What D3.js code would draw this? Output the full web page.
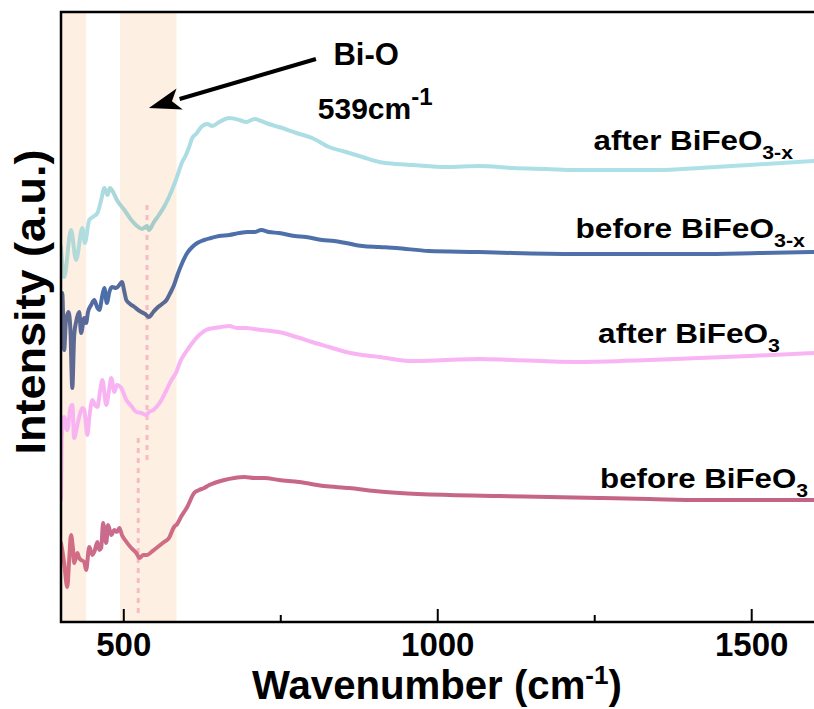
<!DOCTYPE html>
<html lang="en">
<head>
<meta charset="utf-8">
<title>Raman spectra BiFeO3</title>
<style type="text/css">
	body { margin: 0; background: white; }
	svg { display: block; font-family: "Liberation Sans", Arial, Helvetica, sans-serif; font-weight: bold; }
	.axis-line { stroke: black; stroke-width: 2.5; fill: none; }
	.tick-mark { stroke: black; stroke-width: 2; }
	.tick-label { font-size: 33px; text-anchor: middle; }
	.spectrum { fill: none; stroke-width: 4; stroke-linejoin: round; stroke-linecap: round; }
</style>
</head>
<body>
<script src="https://cdnjs.cloudflare.com/ajax/libs/d3/7.8.5/d3.min.js"></script>
<script type="text/javascript">

// ---- data (wavenumber in cm-1, intensity in a.u. with offsets) ----
var afterXWave = [400,405,416,424,434,438,445,453,458,464,469,474,478,481,489,501,512,521,529,537,540,548,556,564,572,583,593,599,604,609,615,625,633,641,652,668,684,695,708,719,731,747,775,800,827,854,880,907,934,959,1013,1066,1119,1173,1220,1289,1353,1416,1496,1598];
var afterXInt  = [375,345,392,362,394,379,402,406,409,422,434,427,434,432,422,412,402,396,393,396,392,400,407,415,425,442,460,467,475,484,488,496,498,496,500,504,502,500,503,501,498,495,489,484,475,470,465,460,458,457,455,456,454,453,452,452,452,454,457,461];

var beforeXWave = [400,402,405,408,412,415,418,421,424,429,432,437,440,443,448,453,458,461,466,469,473,477,481,488,494,497,501,504,510,517,523,528,534,540,547,553,561,568,574,580,586,593,601,609,617,628,639,652,668,684,697,708,719,731,747,772,790,816,835,854,880,907,934,986,1066,1119,1220,1321,1416,1512,1598];
var beforeXInt  = [322,329,272,302,310,292,234,287,300,310,289,304,299,310,317,322,314,312,327,334,319,330,335,334,338,340,330,322,318,315,312,310,308,305,310,314,318,322,329,337,348,359,369,375,379,382,384,386,387,389,390,390,392,390,389,386,385,382,381,379,376,375,374,371,370,369,368,368,368,369,370];

var afterWave = [400,401,403,405,410,415,418,421,426,429,434,437,442,445,450,454,458,462,466,472,477,480,485,489,496,504,512,520,528,536,540,547,552,560,568,576,583,591,599,609,620,631,644,655,668,680,695,708,720,734,747,775,800,827,854,880,907,959,1013,1066,1119,1220,1337,1416,1496,1598];
var afterInt  = [122,182,197,205,192,214,217,184,197,205,214,212,187,204,222,217,215,230,242,217,234,244,230,237,234,222,216,210,209,207,210,212,215,222,232,242,249,262,270,279,287,292,294,295,296,294,294,293,292,291,290,285,280,275,270,267,265,261,262,263,262,260,262,264,266,269];

var beforeWave = [400,402,405,410,413,416,419,421,426,429,432,437,440,445,450,453,458,461,464,467,472,475,480,485,489,493,497,502,512,520,525,531,537,544,548,556,564,572,580,585,591,601,612,620,628,636,644,660,676,692,708,724,747,779,819,859,899,939,1018,1098,1177,1257,1337,1416,1496,1598];
var beforeInt  = [79,72,59,35,62,87,74,59,69,64,62,60,52,75,67,70,80,72,74,99,79,97,87,92,90,94,87,82,74,69,64,67,67,70,72,76,80,84,95,98,105,115,129,132,134,137,139,142,144,145,144,144,142,140,136,134,131,129,127,126,125,124,123,122,122,122];

var seriesNames = ["after BiFeO3-x", "before BiFeO3-x", "after BiFeO3", "before BiFeO3"];

// shaded regions and marker lines (cm-1)
var bands = [[400, 440], [494, 584]];
var markers = [{ w: 537, from: 162, to: 417 }, { w: 523, from: 9, to: 189 }];

var xTicks = [500, 1000, 1500];
var xMinorTicks = [750, 1250];

// ---- layout ----
var fullwidth = 814;
var fullheight = 709;
var margin = { top: 12, right: 0, bottom: 87, left: 61 };

var svg = d3.select("body")
	.append("svg")
	.attr("width", fullwidth)
	.attr("height", fullheight);

var xScale = d3.scaleLinear()
	.domain([400, 1600])
	.range([margin.left, 814.5]);

var yScale = d3.scaleLinear()
	.domain([0, 610])
	.range([fullheight - margin.bottom, margin.top]);

var defs = svg.append("defs");
defs.append("clipPath").attr("id", "plotclip")
	.append("rect")
	.attr("x", margin.left)
	.attr("y", margin.top)
	.attr("width", fullwidth - margin.left)
	.attr("height", yScale(0) - margin.top);

// colour gradients along x, to mimic the shading of the original curves
var gradients = [
	{ id: "g0", stops: [[400, "#b3d5d0"], [450, "#aee0e6"], [500, "#a9d3d1"], [545, "#a6cbc6"], [585, "#abdde3"], [1600, "#aee2e8"]] },
	{ id: "g1", stops: [[400, "#626b8c"], [440, "#58689a"], [470, "#4b6fab"], [500, "#596a94"], [560, "#5a6890"], [600, "#4e70aa"], [1600, "#4f70a8"]] },
	{ id: "g2", stops: [[400, "#f8b4f2"], [1600, "#f9b4f4"]] },
	{ id: "g3", stops: [[400, "#d46e80"], [470, "#c96a8e"], [540, "#d16e84"], [620, "#c8678a"], [1600, "#c26485"]] }
];

gradients.forEach(function(g) {
	var lg = defs.append("linearGradient")
		.attr("id", g.id)
		.attr("gradientUnits", "userSpaceOnUse")
		.attr("x1", xScale(400)).attr("x2", xScale(1600))
		.attr("y1", 0).attr("y2", 0);
	g.stops.forEach(function(s) {
		lg.append("stop")
			.attr("offset", (s[0] - 400) / 1200)
			.attr("stop-color", s[1]);
	});
});

var plot = svg.append("g").attr("clip-path", "url(#plotclip)");

// shaded bands
plot.selectAll("rect.band")
	.data(bands)
	.enter()
	.append("rect")
	.attr("class", "band")
	.attr("x", function(d) { return xScale(d[0]); })
	.attr("width", function(d) { return xScale(d[1]) - xScale(d[0]); })
	.attr("y", margin.top)
	.attr("height", yScale(0) - margin.top)
	.attr("fill", "#fdefe2");

// dotted marker lines
plot.selectAll("line.marker")
	.data(markers)
	.enter()
	.append("line")
	.attr("class", "marker")
	.attr("x1", function(d) { return xScale(d.w); })
	.attr("x2", function(d) { return xScale(d.w); })
	.attr("y1", function(d) { return yScale(d.from); })
	.attr("y2", function(d) { return yScale(d.to); })
	.attr("stroke", "#f6bcc6")
	.attr("stroke-width", 3)
	.attr("stroke-dasharray", "5 5");

// spectra
var line = d3.line()
	.x(function(d) { return xScale(d[0]); })
	.y(function(d) { return yScale(d[1]); })
	.curve(d3.curveMonotoneX);

var spectra = [
	d3.zip(afterXWave, afterXInt),
	d3.zip(beforeXWave, beforeXInt),
	d3.zip(afterWave, afterInt),
	d3.zip(beforeWave, beforeInt)
];

plot.selectAll("path.spectrum")
	.data(spectra)
	.enter()
	.append("path")
	.attr("class", "spectrum")
	.attr("stroke", function(d, i) { return "url(#g" + i + ")"; })
	.attr("d", line);

// ---- axes ----
var x0 = xScale(400), yb = yScale(0);

svg.append("path")
	.attr("class", "axis-line")
	.attr("d", "M" + fullwidth + "," + margin.top + "H" + x0 + "V" + yb + "H" + fullwidth);

svg.selectAll("line.major")
	.data(xTicks)
	.enter()
	.append("line")
	.attr("class", "tick-mark")
	.attr("x1", function(d) { return xScale(d); })
	.attr("x2", function(d) { return xScale(d); })
	.attr("y1", yb)
	.attr("y2", yb - 13);

svg.selectAll("line.minor")
	.data(xMinorTicks)
	.enter()
	.append("line")
	.attr("class", "tick-mark")
	.attr("x1", function(d) { return xScale(d); })
	.attr("x2", function(d) { return xScale(d); })
	.attr("y1", yb)
	.attr("y2", yb - 7);

svg.selectAll("text.tick-label")
	.data(xTicks)
	.enter()
	.append("text")
	.attr("class", "tick-label")
	.attr("x", function(d) { return xScale(d); })
	.attr("y", yb + 34)
	.text(function(d) { return d; });

// stretch a text group horizontally so that it spans a given width
function fitWidth(g, x, y, width) {
	var bb = g.node().getBBox();
	var s = width / bb.width;
	g.attr("transform", "translate(" + x + "," + y + ") scale(" + s + ",1)");
}

var xTitle = svg.append("g");
var xt = xTitle.append("text").attr("text-anchor", "middle").style("font-size", "40px");
xt.append("tspan").text("Wavenumber (cm");
xt.append("tspan").attr("dy", -15).style("font-size", "26px").text("-1");
xt.append("tspan").attr("dy", 15).text(")");
fitWidth(xTitle, 437, 699, 370);

var yTitle = svg.append("g");
yTitle.append("text").attr("text-anchor", "middle").style("font-size", "42px")
	.text("Intensity (a.u.)");
var ybb = yTitle.node().getBBox();
yTitle.attr("transform", "translate(45,302) rotate(-90) scale(" + (305 / ybb.width) + ",1)");

// ---- series labels ----
var labels = [
	{ base: "after BiFeO", sub: "3-x", right: 793, y: 150, width: 200 },
	{ base: "before BiFeO", sub: "3-x", right: 805, y: 238, width: 230 },
	{ base: "after BiFeO", sub: "3", right: 780, y: 343, width: 182 },
	{ base: "before BiFeO", sub: "3", right: 808, y: 488, width: 208 }
];

labels.forEach(function(l) {
	var g = svg.append("g");
	var t = g.append("text").attr("text-anchor", "end").style("font-size", "28px");
	t.append("tspan").text(l.base);
	t.append("tspan").attr("dy", 9).style("font-size", "19px").text(l.sub);
	fitWidth(g, l.right, l.y, l.width);
});

// ---- Bi-O annotation ----
var tip = [xScale(540), yScale(514)];
var tail = [xScale(806), yScale(563)];
var ang = Math.atan2(tail[1] - tip[1], tail[0] - tip[0]);
var headLen = 32, headHalf = 11;
var bx = tip[0] + headLen * Math.cos(ang), by = tip[1] + headLen * Math.sin(ang);

svg.append("line")
	.attr("x1", tail[0]).attr("y1", tail[1])
	.attr("x2", bx).attr("y2", by)
	.attr("stroke", "black")
	.attr("stroke-width", 4);

svg.append("path")
	.attr("d", "M" + tip[0] + "," + tip[1] +
		"L" + (bx + headHalf * Math.sin(ang)) + "," + (by - headHalf * Math.cos(ang)) +
		"L" + (tip[0] + (headLen - 8) * Math.cos(ang)) + "," + (tip[1] + (headLen - 8) * Math.sin(ang)) +
		"L" + (bx - headHalf * Math.sin(ang)) + "," + (by + headHalf * Math.cos(ang)) + "Z")
	.attr("fill", "black");

svg.append("text")
	.attr("x", xScale(886))
	.attr("y", yScale(557))
	.attr("text-anchor", "middle")
	.style("font-size", "31px")
	.text("Bi-O");

var ann = svg.append("text")
	.attr("x", xScale(809))
	.attr("y", yScale(503))
	.style("font-size", "30px");
ann.append("tspan").text("539cm");
ann.append("tspan").attr("dy", -14).style("font-size", "24px").text("-1");

</script>
</body>
</html>
